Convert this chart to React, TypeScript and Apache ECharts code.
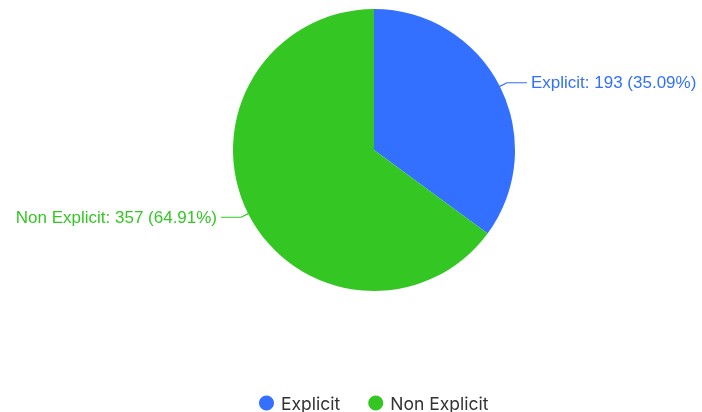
import React, { useEffect, useRef } from "react";
import * as echarts from "echarts";

const categories = ["Explicit", "Non Explicit"];
const values = [193, 357];
const colors = ["#3370ff", "#34c724"];

export default function App() {
  const ref = useRef<HTMLDivElement>(null);
  useEffect(() => {
    if (!ref.current) return;
    const chart = echarts.init(ref.current, null, { renderer: "svg" });
    const total = values.reduce((a, b) => a + b, 0);
    chart.setOption({
      animation: false,
      color: colors,
      textStyle: { fontFamily: "Liberation Sans, Arial, sans-serif" },
      legend: {
        bottom: -5,
        left: 254,
        icon: "circle",
        itemWidth: 15,
        itemHeight: 15,
        itemGap: 28,
        textStyle: {
          fontSize: 17.5,
          color: "#333",
          fontFamily: "Inter, Roboto, sans-serif",
          padding: [0, 0, 0, 2],
        },
        data: categories,
      },
      series: [
        {
          type: "pie",
          center: [374, 150],
          radius: 141,
          startAngle: 90,
          clockwise: true,
          label: {
            show: true,
            fontSize: 17,
            color: "inherit",
            overflow: "none",
            distanceToLabelLine: 4,
            formatter: (p: any) =>
              `${p.name}: ${p.value} (${((p.value / total) * 100).toFixed(2)}%)`,
          },
          labelLine: { show: true, length: 8, length2: 20, lineStyle: { width: 1.2 } },
          data: categories.map((c, i) => ({
            name: c,
            value: values[i],
            label: { color: colors[i] },
          })),
        },
      ],
    });
    return () => chart.dispose();
  }, []);
  return (
    <div
      ref={ref}
      style={{ position: "fixed", left: 0, top: 0, width: 702, height: 412 }}
    />
  );
}
